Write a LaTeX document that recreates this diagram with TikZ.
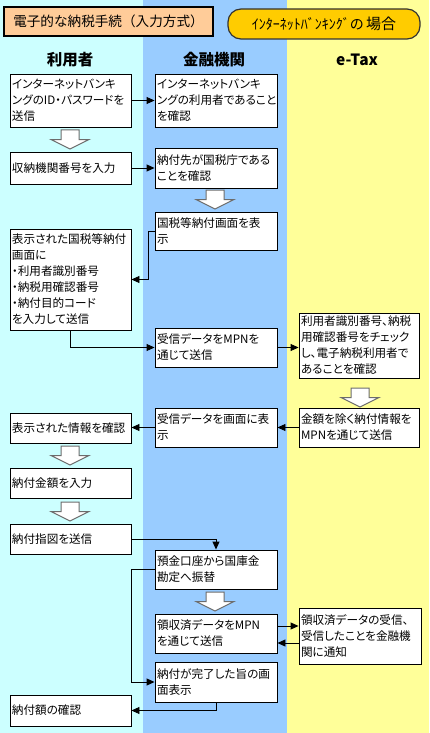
\documentclass[tikz,border=0pt]{standalone}
\usepackage{fontspec}
\setmainfont{Noto Sans CJK JP}[RawFeature=+palt]
\newfontfamily\cjkfull{Noto Sans CJK JP}
\usetikzlibrary{arrows.meta}
\definecolor{cyanbg}{HTML}{CCFFFF}
\definecolor{bluebg}{HTML}{99CCFF}
\definecolor{yellowbg}{HTML}{FFFF99}
\definecolor{peach}{HTML}{FFCC99}
\definecolor{gold}{HTML}{FFCC00}
\newcommand\hollowarrow[2]{%
  \draw[hollow] ({#1-9},#2) -- ({#1+9},#2) -- ({#1+9},{#2+9.5}) -- ({#1+19},{#2+9.5})
    -- (#1,{#2+19}) -- ({#1-19},{#2+9.5}) -- ({#1-9},{#2+9.5}) -- cycle;}
\begin{document}
\begin{tikzpicture}[x=1pt,y=-1pt,
  box/.style={draw=black,line width=0.9pt,fill=white,inner xsep=2pt,inner ysep=0pt,
    align=left,font=\fontsize{11.6}{16}\selectfont},
  acol/.style={box,minimum width=121pt,text width=117pt},
  bcol/.style={box,minimum width=122pt,text width=118pt},
  ccol/.style={box,minimum width=120pt,text width=116pt},
  conn/.style={line width=0.9pt,-{Triangle[length=8pt,width=7pt]}},
  hollow/.style={draw=gray!85!black,fill=white,line width=1pt,line join=miter},
  colhead/.style={font=\bfseries\fontsize{15.5}{16}\selectfont}]
\useasboundingbox (0,0) rectangle (429,733);
\fill[cyanbg] (0,0) rectangle (143,733);
\fill[bluebg] (143,0) rectangle (287,733);
\fill[yellowbg] (287,0) rectangle (429,733);

% header
\node[draw=black,line width=1.2pt,fill=peach,minimum width=209pt,minimum height=29pt,
  inner sep=0pt,font=\cjkfull\fontsize{13.6}{14}\selectfont] (title) at (108.5,21.5) {電子的な納税手続（入力方式）};
\node[draw=black!80,line width=1.2pt,fill=gold,rounded corners=13pt,minimum width=192pt,
  minimum height=30pt,inner sep=0pt] (case) at (324,24)
  {{\cjkfull\fontsize{14}{14}\selectfont ｲﾝﾀｰﾈｯﾄﾊﾞﾝｷﾝｸﾞの}\ {\cjkfull\fontsize{15}{15}\selectfont 場合}};

\node[colhead] (h1) at (70,60) {利用者};
\node[colhead] (h2) at (214,60) {金融機関};
\node[colhead] (h3) at (357,60) {e-Tax};

% column A
\node[acol,minimum height=53pt] (a1) at (70.5,100.5) {インターネットバンキ\\ングのID・パスワードを\\送信};
\node[acol,minimum height=32pt] (a2) at (70.5,168) {収納機関番号を入力};
\node[acol,minimum height=101pt] (a3) at (70.5,279.5) {表示された国税等納付\\画面に\\・利用者識別番号\\・納税用確認番号\\・納付目的コード\\を入力して送信};
\node[acol,minimum height=30pt] (a4) at (70.5,428) {表示された情報を確認};
\node[acol,minimum height=30pt] (a5) at (70.5,483) {納付金額を入力};
\node[acol,minimum height=30pt] (a6) at (70.5,539) {納付指図を送信};
\node[acol,minimum height=31pt] (a7) at (70.5,710.5) {納付額の確認};

% column B
\node[bcol,minimum height=53pt] (b1) at (216,100.5) {インターネットバンキ\\ングの利用者であること\\を確認};
\node[bcol,minimum height=40pt] (b2) at (216,168) {納付先が国税庁である\\ことを確認};
\node[bcol,minimum height=38pt] (b3) at (216,231) {国税等納付画面を表\\示};
\node[bcol,minimum height=39pt] (b4) at (216,347.5) {受信データをMPNを\\通じて送信};
\node[bcol,minimum height=39pt] (b5) at (216,427.5) {受信データを画面に表\\示};
\node[bcol,minimum height=39pt] (b6) at (216,569.5) {預金口座から国庫金\\勘定へ振替};
\node[bcol,minimum height=39pt] (b7) at (216,633.5) {領収済データをMPN\\を通じて送信};
\node[bcol,minimum height=40pt] (b8) at (216,682) {納付が完了した旨の画\\面表示};

% column C
\node[ccol,minimum height=65pt] (c1) at (359,345.5) {利用者識別番号、納税\\用確認番号をチェック\\し、電子納税利用者で\\あることを確認};
\node[ccol,minimum height=39pt] (c2) at (359,427.5) {金額を除く納付情報を\\MPNを通じて送信};
\node[box,minimum width=122pt,text width=118pt,minimum height=56pt] (c3) at (360,636) {領収済データの受信、\\受信したことを金融機\\関に通知};

% hollow arrows
\hollowarrow{70}{130}
\hollowarrow{215}{190}
\hollowarrow{360}{388}
\hollowarrow{70}{446}
\hollowarrow{70}{502}
\hollowarrow{215}{592}

% connectors
\draw[conn] (a1.east) -- (b1.west);
\draw[conn] (a2.east) -- (b2.west);
\draw[conn] (b3.west) -- ++(-6,0) |- (a3.east);
\draw[conn] (a3.south) |- (b4.west);
\draw[conn] (b4.east) -- (b4.east -| c1.west);
\draw[conn] (c2.west) -- (b5.east);
\draw[conn] (b5.west) -- (b5.west -| a4.east);
\draw[conn] (a6.east) -| (b6.north);
\draw[conn] (b6.west) -- ++(-23,0) |- (b8.west);
\draw[conn] ([yshift=7.5pt]b7.east) -- ([yshift=7.5pt]b7.east -| c3.west);
\draw[conn] ([yshift=-9.5pt]b7.east -| c3.west) -- ([yshift=-9.5pt]b7.east);
\draw[conn] (b8.south) |- (a7.east);
\end{tikzpicture}
\end{document}
